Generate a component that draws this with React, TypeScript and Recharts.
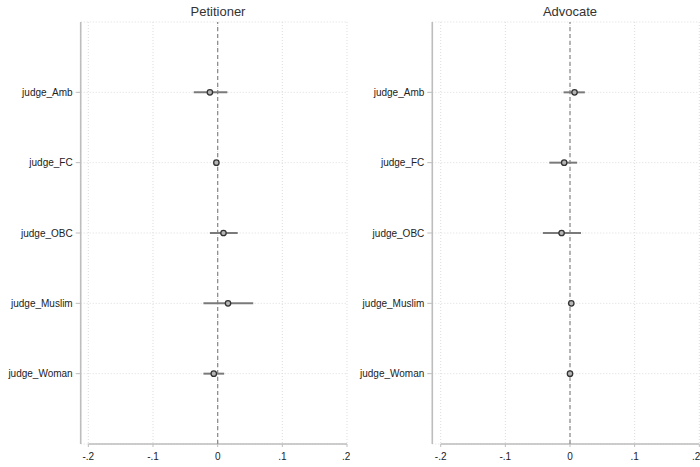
import React from 'react';
import {
  ScatterChart,
  Scatter,
  XAxis,
  YAxis,
  CartesianGrid,
  ReferenceLine,
  ErrorBar,
} from 'recharts';

// Coefficient plot: judge characteristics, two outcomes
const labels = ['judge_Amb', 'judge_FC', 'judge_OBC', 'judge_Muslim', 'judge_Woman'];

const petitionerEst = [-0.012, -0.002, 0.009, 0.016, -0.006];
const petitionerLo = [-0.037, -0.004, -0.012, -0.022, -0.022];
const petitionerHi = [0.015, 0.0, 0.031, 0.055, 0.010];

const advocateEst = [0.007, -0.009, -0.013, 0.002, 0.0];
const advocateLo = [-0.010, -0.032, -0.042, 0.0, -0.002];
const advocateHi = [0.023, 0.011, 0.017, 0.004, 0.002];

const xTicks = [-0.2, -0.1, 0, 0.1, 0.2];
const yTicks = [1, 2, 3, 4, 5];

const FONT = '"Liberation Sans", Arial, sans-serif';
const AXIS = '#bdbdbd';

function buildRows(est: number[], lo: number[], hi: number[]) {
  return est.map((v, i) => ({
    x: v,
    y: i + 1,
    err: [v - lo[i], hi[i] - v],
  }));
}

function fmtX(v: number) {
  if (v === 0) return '0';
  const d = Math.round(Math.abs(v) * 10);
  return (v < 0 ? '-.' : '.') + d;
}

const Dot = (props: any) => {
  const { cx, cy } = props;
  if (cx == null || cy == null) return null;
  return <circle cx={cx} cy={cy} r={2.7} fill="#b5b5b5" stroke="#333" strokeWidth={1.3} />;
};

interface PanelProps {
  title: string;
  rows: Array<{ x: number; y: number; err: number[] }>;
  left: number;
  axisWidth: number;
  xMin: number;
  rightMargin: number;
  titleX: number;
}

const Panel: React.FC<PanelProps> = ({ title, rows, left, axisWidth, xMin, rightMargin, titleX }) => (
  <div style={{ position: 'absolute', left, top: 0, width: 350, height: 467 }}>
    <div
      style={{
        position: 'absolute',
        left: titleX - left - 60,
        width: 120,
        top: 4,
        lineHeight: '16px',
        textAlign: 'center',
        fontFamily: FONT,
        fontSize: 13,
        color: '#333',
      }}
    >
      {title}
    </div>
    <ScatterChart
      width={350}
      height={467}
      margin={{ top: 22, right: rightMargin, bottom: 0, left: 0 }}
    >
      <CartesianGrid stroke="#dcdcdc" strokeDasharray="1 2" />
      <XAxis
        type="number"
        dataKey="x"
        domain={[xMin, 0.2]}
        ticks={xTicks}
        tickFormatter={fmtX}
        allowDataOverflow
        axisLine={false}
        tickLine={{ stroke: AXIS }}
        tickSize={3}
        tickMargin={6}
        height={23}
        tick={{ fontSize: 10, fill: '#222', fontFamily: FONT }}
      />
      <YAxis
        type="number"
        dataKey="y"
        domain={[0, 6]}
        reversed
        ticks={yTicks}
        tickFormatter={(v: number) => labels[v - 1] ?? ''}
        width={axisWidth}
        axisLine={{ stroke: AXIS, strokeWidth: 1.6 }}
        tickLine={{ stroke: AXIS }}
        tickSize={5}
        tickMargin={3}
        tick={{ fontSize: 10, fill: '#222', fontFamily: FONT }}
      />
      <ReferenceLine
        segment={[{ x: -0.2, y: 6 }, { x: 0.2, y: 6 }]}
        stroke={AXIS}
        strokeWidth={1.6}
        ifOverflow="visible"
      />
      <ReferenceLine x={0} stroke="#8f8f8f" strokeDasharray="4 3" strokeWidth={1.3} />
      <Scatter data={rows} shape={<Dot />} isAnimationActive={false}>
        <ErrorBar
          dataKey="err"
          direction="x"
          width={0}
          stroke="#7a7a7a"
          strokeWidth={2}
          isAnimationActive={false}
        />
      </Scatter>
    </ScatterChart>
  </div>
);

export default function App() {
  return (
    <div style={{ position: 'absolute', left: 0, top: 0, width: 700, height: 467, background: '#fff' }}>
      <Panel
        title="Petitioner"
        rows={buildRows(petitionerEst, petitionerLo, petitionerHi)}
        left={0}
        axisWidth={80.7}
        xMin={-0.2118}
        rightMargin={3}
        titleX={218}
      />
      <Panel
        title="Advocate"
        rows={buildRows(advocateEst, advocateLo, advocateHi)}
        left={350}
        axisWidth={82.3}
        xMin={-0.213}
        rightMargin={0.7}
        titleX={570}
      />
    </div>
  );
}
